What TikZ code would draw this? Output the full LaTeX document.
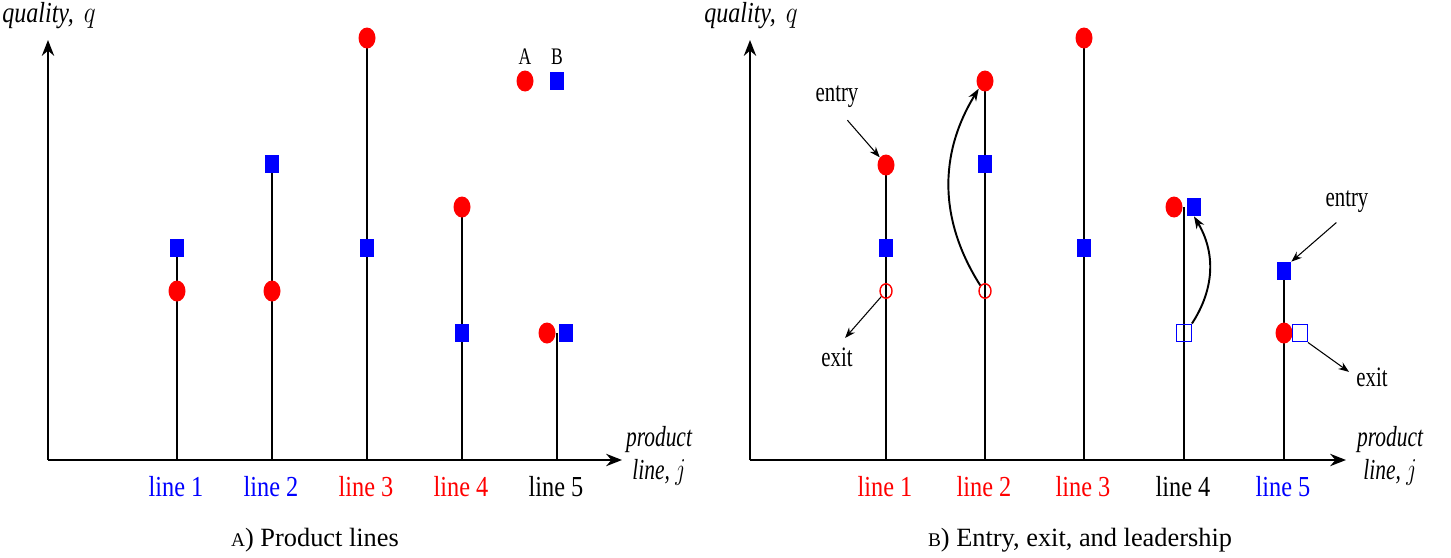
\documentclass[tikz,border=0pt]{standalone}
\usepackage{fontspec}
\setmainfont{Liberation Serif}
\usetikzlibrary{shapes.geometric, arrows.meta, positioning, backgrounds}

\begin{document}
\begin{tikzpicture}[
    x=0.02cm, y=-0.02cm,
    dot/.style={ellipse, fill=red, minimum width=0.34cm, minimum height=0.42cm, inner sep=0pt},
    box/.style={rectangle, fill=blue, minimum width=0.28cm, minimum height=0.36cm, inner sep=0pt},
    opendot/.style={ellipse, draw=red, line width=0.8pt, minimum width=0.24cm, minimum height=0.29cm, inner sep=0pt},
    openbox/.style={rectangle, draw=blue, line width=0.8pt, minimum width=0.29cm, minimum height=0.35cm, inner sep=0pt},
    lbl/.style={font=\fontsize{16}{18}\selectfont, xscale=0.74, transform shape, inner sep=0pt},
    linelbl/.style={font=\fontsize{16.5}{18}\selectfont, xscale=0.84, transform shape, inner sep=0pt},
    axlbl/.style={lbl, font=\fontsize{16.5}{19}\selectfont\itshape, align=center},
    subcap/.style={font=\fontsize{15}{17}\selectfont, inner sep=0pt},
    axis/.style={-{Stealth[length=9pt, width=7pt]}, line width=1.2pt},
    stem/.style={line width=1.1pt},
    note/.style={-{Stealth[length=6pt, width=4.5pt]}, line width=0.6pt},
    jump/.style={-{Stealth[length=7pt, width=5pt]}, line width=1.1pt}
  ]
  \useasboundingbox (0,0) rectangle (1451,558);

  % ---- panel A: product lines
  \coordinate (oA) at (48,460);
  \coordinate (yA) at (48,40);
  \coordinate (xA) at (622,460);
  \draw[axis] (oA) -- (yA);
  \draw[axis] (oA) -- (xA);
  \node[axlbl, xscale=1.12] (qA) at (49,16) {quality, \,$q$};
  \node[axlbl] (jA) at (659,456) {product\\line, $j$};

  \coordinate (a1) at (177,460);
  \coordinate (a2) at (272,460);
  \coordinate (a3) at (367,460);
  \coordinate (a4) at (462,460);
  \coordinate (a5) at (557,460);
  \coordinate (a5top) at (557,333);

  \node[box] (bA1) at (177,248) {};
  \node[dot] (dA1) at (177,291) {};
  \node[box] (bA2) at (272,164) {};
  \node[dot] (dA2) at (272,291) {};
  \node[dot] (dA3) at (367,38) {};
  \node[box] (bA3) at (367,248) {};
  \node[dot] (dA4) at (462,207) {};
  \node[box] (bA4) at (462,333) {};
  \node[dot] (dA5) at (547,333) {};
  \node[box] (bA5) at (566,333) {};

  \begin{scope}[on background layer]
    \draw[stem] (a1) -- (bA1.center);
    \draw[stem] (a2) -- (bA2.center);
    \draw[stem] (a3) -- (dA3.center);
    \draw[stem] (a4) -- (dA4.center);
    \draw[stem] (a5) -- (a5top);
  \end{scope}

  \node[lbl, font=\fontsize{13.5}{15}\selectfont] (legAt) at (525,57) {A};
  \node[dot] (legA) at (525,81) {};
  \node[lbl, font=\fontsize{13.5}{15}\selectfont] (legBt) at (557,57) {B};
  \node[box] (legB) at (557,81) {};

  \node[linelbl, text=blue] (lA1) at (176,487) {line 1};
  \node[linelbl, text=blue] (lA2) at (271,487) {line 2};
  \node[linelbl, text=red] (lA3) at (366,487) {line 3};
  \node[linelbl, text=red] (lA4) at (461,487) {line 4};
  \node[linelbl] (lA5) at (556,487) {line 5};

  \node[subcap] (capA) at (315,540) {{\fontsize{11}{13}\selectfont A}) Product lines};

  % ---- panel B: entry, exit, and leadership
  \coordinate (oB) at (750,460);
  \coordinate (yB) at (750,40);
  \coordinate (xB) at (1346,460);
  \draw[axis] (oB) -- (yB);
  \draw[axis] (oB) -- (xB);
  \node[axlbl, xscale=1.12] (qB) at (751,16) {quality, \,$q$};
  \node[axlbl] (jB) at (1390,456) {product\\line, $j$};

  \coordinate (b1) at (886,460);
  \coordinate (b2) at (985,460);
  \coordinate (b3) at (1084,460);
  \coordinate (b4) at (1184,460);
  \coordinate (b5) at (1284,460);
  \coordinate (b4top) at (1184,207);

  \node[dot] (dB1) at (886,165) {};
  \node[box] (bB1) at (886,248) {};
  \node[opendot] (oB1) at (886,291) {};
  \node[dot] (dB2) at (985,81) {};
  \node[box] (bB2) at (985,164) {};
  \node[opendot] (oB2) at (985,291) {};
  \node[dot] (dB3) at (1084,38) {};
  \node[box] (bB3) at (1084,248) {};
  \node[dot] (dB4) at (1174,207) {};
  \node[box] (bB4) at (1194,207) {};
  \node[openbox] (oB4) at (1184,333) {};
  \node[box] (bB5) at (1284,271) {};
  \node[dot] (dB5) at (1284,333) {};
  \node[openbox] (oB5) at (1300,333) {};

  \begin{scope}[on background layer]
    \draw[stem] (b1) -- (dB1.center);
    \draw[stem] (b2) -- (dB2.center);
    \draw[stem] (b3) -- (dB3.center);
    \draw[stem] (b4) -- (b4top);
    \draw[stem] (b5) -- (bB5.center);
  \end{scope}

  \node[lbl] (en1) at (837,97) {entry};
  \node[lbl] (ex1) at (837,357) {exit};
  \node[lbl] (en5) at (1347,202) {entry};
  \node[lbl] (ex5) at (1372,377) {exit};

  \draw[note, shorten <=9pt] (en1.south) -- (dB1.north west);
  \draw[note, shorten >=7pt] (oB1.south west) -- (ex1.north);
  \draw[note, shorten <=8pt] (en5.south) -- (bB5.north east);
  \draw[note, shorten >=5pt] (oB5.south east) -- (ex5.west);

  \draw[jump] (oB2.north west) to[bend left=32] (dB2.south west);
  \draw[jump] (oB4.north east) to[bend right=32] (bB4.south);

  \node[linelbl, text=red] (lB1) at (885,487) {line 1};
  \node[linelbl, text=red] (lB2) at (984,487) {line 2};
  \node[linelbl, text=red] (lB3) at (1083,487) {line 3};
  \node[linelbl] (lB4) at (1183,487) {line 4};
  \node[linelbl, text=blue] (lB5) at (1283,487) {line 5};

  \node[subcap] (capB) at (1080,540) {{\fontsize{11}{13}\selectfont B}) Entry, exit, and leadership};
\end{tikzpicture}
\end{document}
